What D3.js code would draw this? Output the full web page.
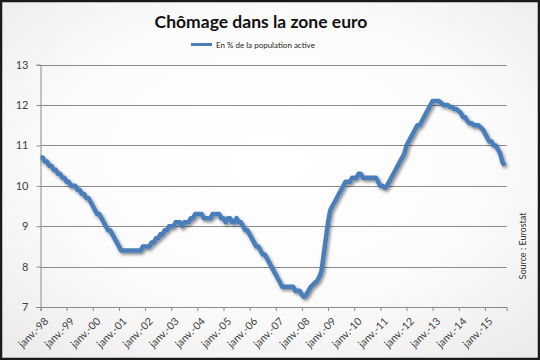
<!DOCTYPE html>
<html><head><meta charset="utf-8">
<script src="https://cdn.jsdelivr.net/npm/d3@7"></script>
<style>html,body{margin:0;padding:0;background:#fff;}svg{display:block;}</style>
</head><body>
<svg id="c" width="540" height="360"></svg>
<script>
// Monthly euro-area unemployment rate (% of labour force), Jan 1998 - Oct 2015
const years = [1998,1999,2000,2001,2002,2003,2004,2005,2006,2007,2008,2009,2010,2011,2012,2013,2014,2015];
const v1998 = [10.7,10.7,10.6,10.6,10.5,10.5,10.4,10.4,10.3,10.3,10.2,10.2];
const v1999 = [10.1,10.1,10.0,10.0,10.0,9.9,9.9,9.8,9.8,9.7,9.7,9.6];
const v2000 = [9.5,9.4,9.3,9.3,9.2,9.1,9.0,8.9,8.9,8.8,8.7,8.6];
const v2001 = [8.5,8.4,8.4,8.4,8.4,8.4,8.4,8.4,8.4,8.4,8.4,8.5];
const v2002 = [8.5,8.5,8.5,8.6,8.6,8.7,8.7,8.8,8.8,8.9,8.9,9.0];
const v2003 = [9.0,9.0,9.1,9.1,9.1,9.0,9.1,9.1,9.1,9.2,9.2,9.3];
const v2004 = [9.3,9.3,9.3,9.2,9.2,9.2,9.2,9.3,9.3,9.3,9.3,9.2];
const v2005 = [9.2,9.1,9.2,9.2,9.1,9.1,9.2,9.1,9.1,9.0,8.9,8.9];
const v2006 = [8.8,8.7,8.6,8.5,8.5,8.4,8.3,8.3,8.2,8.1,8.0,7.9];
const v2007 = [7.8,7.7,7.6,7.5,7.5,7.5,7.5,7.5,7.5,7.4,7.4,7.4];
const v2008 = [7.3,7.25,7.3,7.4,7.5,7.55,7.6,7.65,7.75,7.9,8.3,8.7];
const v2009 = [9.1,9.4,9.5,9.6,9.7,9.8,9.9,10.0,10.1,10.1,10.1,10.2];
const v2010 = [10.2,10.2,10.3,10.3,10.2,10.2,10.2,10.2,10.2,10.2,10.2,10.1];
const v2011 = [10.0,10.0,9.95,10.0,10.1,10.2,10.3,10.4,10.5,10.6,10.7,10.8];
const v2012 = [11.0,11.1,11.2,11.3,11.4,11.5,11.5,11.6,11.7,11.8,11.9,12.0];
const v2013 = [12.1,12.1,12.1,12.1,12.05,12.0,12.0,12.0,11.95,11.95,11.9,11.9];
const v2014 = [11.85,11.8,11.7,11.7,11.6,11.55,11.55,11.5,11.5,11.5,11.45,11.4];
const v2015 = [11.3,11.2,11.1,11.1,11.0,11.0,10.9,10.8,10.6,10.5];
const yearlyValues = [v1998,v1999,v2000,v2001,v2002,v2003,v2004,v2005,v2006,v2007,v2008,v2009,v2010,v2011,v2012,v2013,v2014,v2015];
const xTickLabels = ["janv.-98","janv.-99","janv.-00","janv.-01","janv.-02","janv.-03","janv.-04","janv.-05","janv.-06","janv.-07","janv.-08","janv.-09","janv.-10","janv.-11","janv.-12","janv.-13","janv.-14","janv.-15"];
const yTicks = [7,8,9,10,11,12,13];
const title = "Chômage dans la zone euro";
const seriesName = "En % de la population active";
const sourceText = "Source : Eurostat";

const data = [];
yearlyValues.forEach((arr, yi) => arr.forEach((v, mi) => data.push({m: yi*12 + mi, v})));

const svg = d3.select("#c");
const defs = svg.append("defs");
const rg = defs.append("radialGradient").attr("id","bg").attr("cx","50%").attr("cy","45%").attr("r","75%");
rg.append("stop").attr("offset","0%").attr("stop-color","#ffffff");
rg.append("stop").attr("offset","55%").attr("stop-color","#fbfbfb");
rg.append("stop").attr("offset","100%").attr("stop-color","#e9e9e9");
const f = defs.append("filter").attr("id","sh").attr("x","-10%").attr("y","-10%").attr("width","120%").attr("height","130%");
f.append("feDropShadow").attr("dx",1.5).attr("dy",2).attr("stdDeviation",1.5).attr("flood-color","#000").attr("flood-opacity",0.45);

svg.append("rect").attr("x",1).attr("y",1).attr("width",538).attr("height",358)
  .attr("fill","url(#bg)").attr("stroke","#1a1a1a").attr("stroke-width",2.5);

const x = d3.scaleLinear().domain([0, 214]).range([40.5, 506.7]);
const y = d3.scaleLinear().domain([7, 13]).range([307, 64.7]);

const font = "Lato, 'Liberation Sans', sans-serif";

// gridlines
svg.append("g").selectAll("line").data(yTicks.slice(1)).join("line")
  .attr("x1", x(0)).attr("x2", x(214))
  .attr("y1", d => Math.round(y(d))+0.5).attr("y2", d => Math.round(y(d))+0.5)
  .attr("stroke","#8a8a8a").attr("stroke-width",1);

// y axis
const yAxis = svg.append("g").attr("transform",`translate(${x(0)},0)`)
  .call(d3.axisLeft(y).tickValues(yTicks).tickSize(4).tickPadding(8).tickFormat(d3.format("d")));
yAxis.select(".domain").attr("stroke","#8a8a8a");
yAxis.selectAll(".tick line").attr("stroke","#8a8a8a");
yAxis.selectAll("text").attr("font-family",font).attr("font-size",11).attr("fill","#404040");

// x axis
const xAxis = svg.append("g").attr("transform",`translate(0,${y(7)})`)
  .call(d3.axisBottom(x).tickValues(xTickLabels.map((d,i)=>i*12)).tickSize(4)
    .tickFormat((d,i)=>xTickLabels[i]));
xAxis.select(".domain").attr("stroke","#8a8a8a");
xAxis.selectAll(".tick line").attr("stroke","#8a8a8a");
xAxis.selectAll("text").attr("font-family",font).attr("font-size",10.5).attr("fill","#404040")
  .attr("text-anchor","end").attr("dy",0).attr("transform","translate(3,10) rotate(-45)");

// line
const line = d3.line().x(d => x(d.m)).y(d => y(d.v)).curve(d3.curveLinear);
svg.append("path").datum(data).attr("d", line).attr("fill","none")
  .attr("stroke","#4a7ebb").attr("stroke-width",4.5).attr("stroke-linejoin","round")
  .attr("filter","url(#sh)");

// title
svg.append("text").attr("x",261).attr("y",28).attr("text-anchor","middle")
  .attr("font-family",font).attr("font-weight","bold").attr("font-size",17.5).attr("fill","#111")
  .text(title);

// legend
svg.append("line").attr("x1",191).attr("x2",212).attr("y1",44.5).attr("y2",44.5)
  .attr("stroke","#4a7ebb").attr("stroke-width",3);
svg.append("text").attr("x",216).attr("y",47.5).attr("font-family",font).attr("font-size",8).attr("fill","#222")
  .text(seriesName);

// source
svg.append("text").attr("transform","translate(526,246) rotate(-90)").attr("text-anchor","middle")
  .attr("font-family",font).attr("font-size",9).attr("fill","#333").text(sourceText);
</script>
</body></html>
